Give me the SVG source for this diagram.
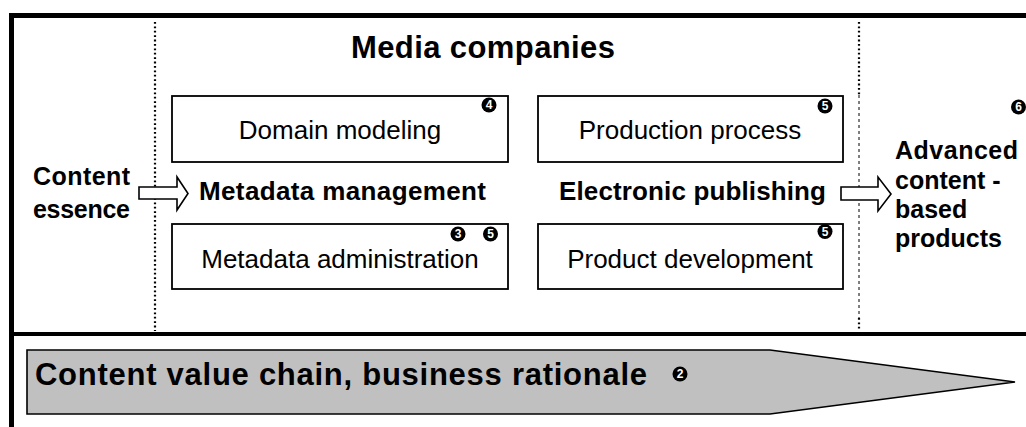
<svg xmlns="http://www.w3.org/2000/svg" width="1026" height="427" viewBox="0 0 1026 427">
<style>
.t{font-family:"Liberation Sans",Arial,sans-serif;fill:#000}
.b{font-weight:bold}
.box{fill:#fff;stroke:#000;stroke-width:1.8}
.bc{fill:#000}
.bn{font-family:"Liberation Sans",Arial,sans-serif;font-weight:bold;font-size:12px;fill:#fff;text-anchor:middle}
.dot{stroke:#000;stroke-width:2.2;stroke-dasharray:1.8 2.6;fill:none}
.dash{stroke:#000;stroke-width:1;stroke-dasharray:3 3;fill:none}
.harrow{fill:#fff;stroke:#000;stroke-width:1.6}
</style>
<rect width="1026" height="427" fill="#fff"/>
<g id="frame">
<path d="M11.5 430 V15.5 H1030" fill="none" stroke="#000" stroke-width="5"/>
<line x1="12" y1="334" x2="1030" y2="334" stroke="#000" stroke-width="4"/>
<line class="dot" x1="155" y1="22" x2="155" y2="331"/>
<line class="dot" x1="859" y1="22" x2="859" y2="95"/>
<line class="dash" x1="859" y1="95" x2="859" y2="318"/>
<line class="dot" x1="859" y1="318" x2="859" y2="331"/>
</g>
<g id="title">
<text class="t b" x="351" y="58" font-size="31" textLength="264">Media companies</text>
</g>
<g id="content-essence">
<text class="t b" x="33" y="185" font-size="25" textLength="97">Content</text>
<text class="t b" x="33" y="218" font-size="25" textLength="97">essence</text>
</g>
<g id="advanced-products">
<circle class="bc" cx="1018.5" cy="107" r="7.5"/><text class="bn" x="1018.5" y="111.3">6</text>
<text class="t b" x="895" y="159" font-size="25" textLength="123">Advanced</text>
<text class="t b" x="895" y="189" font-size="25">content -</text>
<text class="t b" x="895" y="218" font-size="25">based</text>
<text class="t b" x="895" y="247" font-size="25">products</text>
</g>
<g id="domain-modeling">
<rect class="box" x="172" y="96" width="336" height="66"/>
<text class="t" x="340" y="139" font-size="26" text-anchor="middle">Domain modeling</text>
<circle class="bc" cx="489" cy="105" r="7.5"/><text class="bn" x="489" y="109.3">4</text>
</g>
<g id="production-process">
<rect class="box" x="538" y="96" width="305" height="66"/>
<text class="t" x="690" y="139" font-size="26" text-anchor="middle">Production process</text>
<circle class="bc" cx="825" cy="106" r="7.5"/><text class="bn" x="825" y="110.3">5</text>
</g>
<g id="metadata-management">
<text class="t b" x="199" y="200" font-size="26" textLength="287">Metadata management</text>
</g>
<g id="electronic-publishing">
<text class="t b" x="559" y="200" font-size="26" textLength="267">Electronic publishing</text>
</g>
<g id="metadata-administration">
<rect class="box" x="172" y="224" width="336" height="65"/>
<text class="t" x="340" y="268" font-size="26" text-anchor="middle">Metadata administration</text>
<circle class="bc" cx="458" cy="234" r="7.5"/><text class="bn" x="458" y="238.3">3</text>
<circle class="bc" cx="490.5" cy="234" r="7.5"/><text class="bn" x="490.5" y="238.3">5</text>
</g>
<g id="product-development">
<rect class="box" x="538" y="224" width="305" height="65"/>
<text class="t" x="690" y="268" font-size="26" text-anchor="middle">Product development</text>
<circle class="bc" cx="825" cy="231.5" r="7.5"/><text class="bn" x="825" y="235.8">5</text>
</g>
<g id="connectors">
<path class="harrow" d="M139 187 H177 V177 L188 193.5 L177 210 V199 H139 Z"/>
<path class="harrow" d="M841 187 H878 V177 L891 194 L878 211 V200 H841 Z"/>
</g>
<g id="value-chain">
<path d="M27 350 H770 L1015 382 L770 414 H27 Z" fill="#c0c0c0" stroke="#000" stroke-width="1.6"/>
<text class="t b" x="35" y="385" font-size="31" textLength="612">Content value chain, business rationale</text>
<circle class="bc" cx="680" cy="374" r="7.5"/><text class="bn" x="680" y="378.3">2</text>
</g>
</svg>
